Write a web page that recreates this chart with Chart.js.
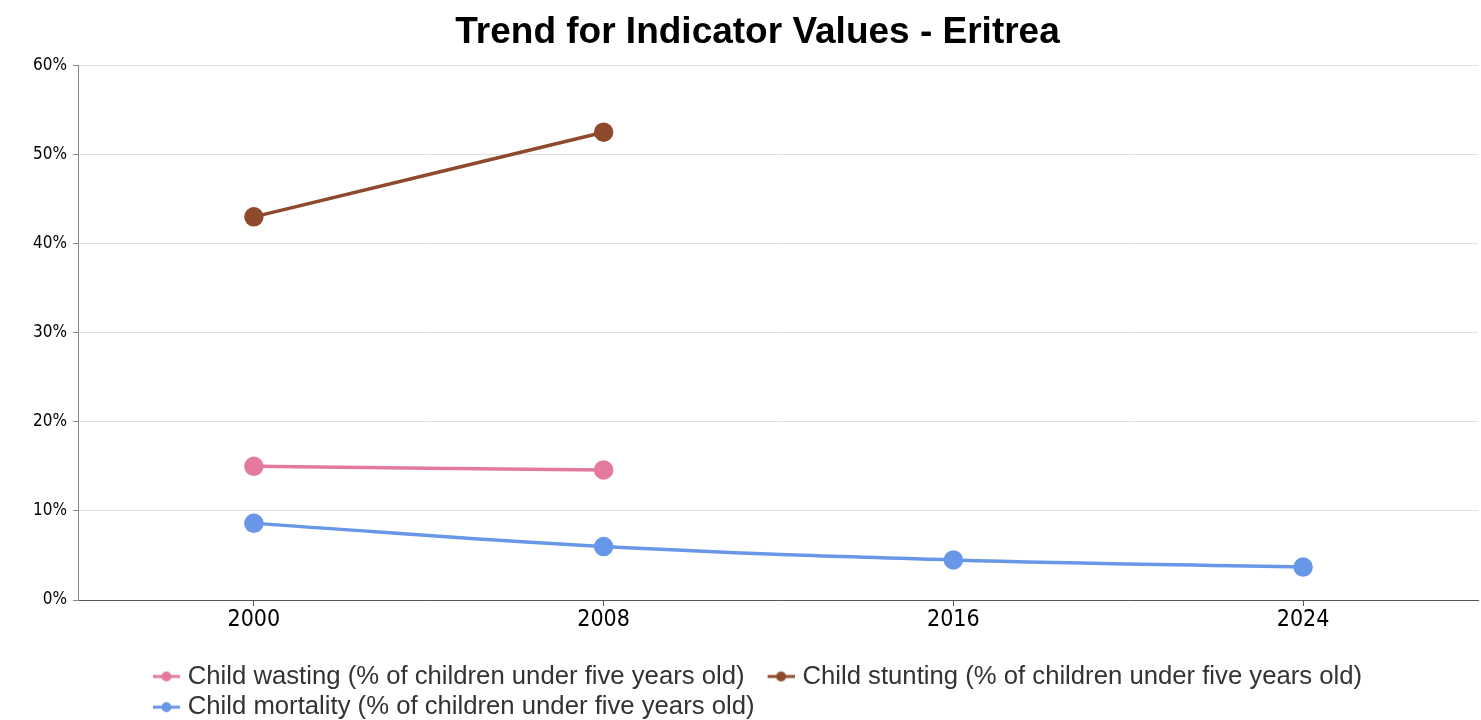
<!DOCTYPE html>
<html>
<head>
<meta charset="utf-8">
<script src="https://cdn.jsdelivr.net/npm/chart.js@4/dist/chart.umd.min.js"></script>
<style>
  html, body { margin: 0; padding: 0; background: #fff; overflow: hidden; }
  #wrap { width: 1481px; height: 720px; position: absolute; left: 0; top: 0; }
  #c { display: block; }
</style>
</head>
<body>
<div id="wrap"><canvas id="c"></canvas></div>
<script>
// ---- data ----
const years = ['2000', '2008', '2016', '2024'];
const wastingValues = [15.0, 14.6, null, null];
const stuntingValues = [43.0, 52.5, null, null];
const mortalityValues = [8.6, 6.0, 4.5, 3.7];
const seriesNames = [
  'Child wasting (% of children under five years old)',
  'Child stunting (% of children under five years old)',
  'Child mortality (% of children under five years old)'
];
const yMin = 0, yMax = 60, yStep = 10;

// ---- styles ----
const colors = ['#e47a9d', '#8f4a2e', '#6897e8'];
const narrow = "'Liberation Sans Narrow', 'Arial Narrow', 'DejaVu Sans Condensed', sans-serif";
const regular = "'Liberation Sans', Arial, Helvetica, sans-serif";

function legendSymbol(color) {
  const cv = document.createElement('canvas');
  cv.width = 50; cv.height = 14;
  const g = cv.getContext('2d');
  g.strokeStyle = color; g.lineWidth = 3;
  g.beginPath(); g.moveTo(23, 7); g.lineTo(50, 7); g.stroke();
  g.fillStyle = color;
  g.beginPath(); g.arc(36.5, 7, 5, 0, Math.PI * 2); g.fill();
  return cv;
}
const symbols = colors.map(legendSymbol);

const layoutTweak = {
  id: 'layoutTweak',
  afterLayout(chart) {
    const lg = chart.legend;
    if (lg && lg.lineWidths) {
      const p = lg.options.labels.padding;
      const start = (lg.left + p + lg.right - lg.lineWidths[0]) / 2;
      lg.left = start - p - 4;
      lg.top += 25;
      lg.bottom += 25;
    }
    const tb = chart.titleBlock;
    if (tb) { tb.left += 5; tb.right += 5; }
  }
};

function ds(label, data, color) {
  return {
    label, data,
    borderColor: color, backgroundColor: color,
    pointBackgroundColor: color, pointBorderColor: color,
    borderWidth: 3.5, pointRadius: 8, pointHoverRadius: 8,
    tension: 0.4, spanGaps: false, fill: false
  };
}

new Chart(document.getElementById('c'), {
  type: 'line',
  data: {
    labels: years,
    datasets: [
      ds(seriesNames[0], wastingValues, colors[0]),
      ds(seriesNames[1], stuntingValues, colors[1]),
      ds(seriesNames[2], mortalityValues, colors[2])
    ]
  },
  plugins: [layoutTweak],
  options: {
    responsive: true,
    maintainAspectRatio: false,
    animation: false,
    layout: { autoPadding: false, padding: { left: 27, right: 3, top: 0, bottom: 15 } },
    plugins: {
      title: {
        display: true,
        text: 'Trend for Indicator Values - Eritrea',
        color: '#000',
        font: { family: regular, size: 37, weight: 'bold' },
        padding: { top: 11, bottom: 10 }
      },
      legend: {
        position: 'bottom',
        align: 'start',
        labels: {
          usePointStyle: true,
          pointStyleWidth: 40,
          boxHeight: 14,
          padding: 5,
          color: '#333',
          font: { family: regular, size: 25.7 },
          generateLabels(chart) {
            const items = Chart.defaults.plugins.legend.labels.generateLabels(chart);
            items.forEach(it => { it.pointStyle = symbols[it.datasetIndex]; });
            return items;
          }
        }
      },
      tooltip: { enabled: false }
    },
    scales: {
      x: {
        offset: true,
        afterFit(scale) { scale.paddingLeft = 0; scale.paddingRight = 0; },
        grid: { display: true, drawOnChartArea: false, tickLength: 6, color: '#555', tickColor: '#555' },
        border: { display: true, color: '#555', width: 1 },
        ticks: { color: '#000', font: { family: narrow, size: 23 }, padding: 0 }
      },
      y: {
        min: yMin, max: yMax,
        grid: { color: '#e0e0e0', tickColor: '#888', tickLength: 6 },
        border: { display: true, color: '#888', width: 1 },
        ticks: {
          stepSize: yStep,
          color: '#000',
          font: { family: narrow, size: 17 },
          padding: 6,
          callback: v => v + '%'
        }
      }
    }
  }
});
</script>
</body>
</html>
